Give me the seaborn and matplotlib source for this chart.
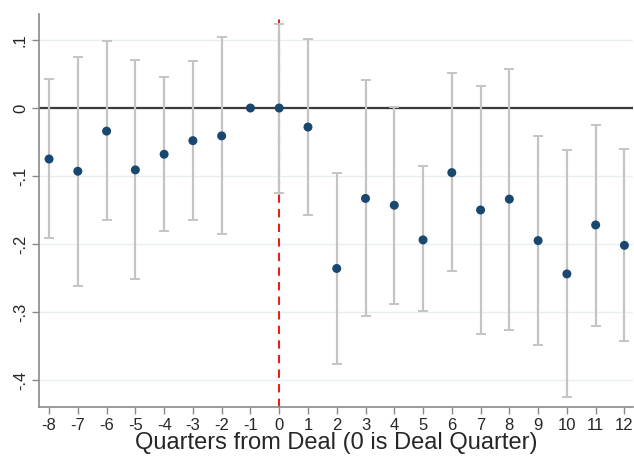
import numpy as np
import pandas as pd
import matplotlib
matplotlib.use('Agg')
import matplotlib.pyplot as plt
import seaborn as sns

# event-study estimates
quarters = list(range(-8, 13))
coef = [-0.075, -0.093, -0.034, -0.091, -0.068, -0.048, -0.041, 0.0, 0.0, -0.028,
        -0.236, -0.133, -0.143, -0.194, -0.095, -0.150, -0.134, -0.195, -0.244, -0.172, -0.202]
ci_high = [0.043, 0.075, 0.098, 0.071, 0.046, 0.069, 0.104, np.nan, 0.123, 0.101,
           -0.096, 0.041, 0.001, -0.086, 0.051, 0.033, 0.058, -0.041, -0.062, -0.025, -0.060]
ci_low = [-0.191, -0.262, -0.165, -0.252, -0.181, -0.165, -0.186, np.nan, -0.125, -0.157,
          -0.376, -0.306, -0.288, -0.299, -0.240, -0.333, -0.326, -0.348, -0.425, -0.320, -0.343]
yticks = [0.1, 0, -0.1, -0.2, -0.3, -0.4]
ytick_labels = ['.1', '0', '-.1', '-.2', '-.3', '-.4']


def main():
    df = pd.DataFrame({'q': quarters, 'coef': coef, 'hi': ci_high, 'lo': ci_low})

    sns.set_style('white')
    plt.rcParams['font.family'] = ['Liberation Sans', 'DejaVu Sans']

    fig = plt.figure(figsize=(6.34, 4.58), dpi=100)
    ax = fig.add_axes([0.0615, 0.111, 0.937, 0.858])

    for v in yticks:
        ax.axhline(v, color='#e8eff3', lw=1.0, zorder=0)
    ax.axhline(0, color='#3a3a3a', lw=1.6, zorder=1)
    ax.axvline(0, color='#e8201c', lw=1.5, ls=(0, (4, 3)), zorder=1)

    # confidence intervals
    bars = df.dropna()
    ax.errorbar(bars['q'], bars['coef'],
                yerr=[bars['coef'] - bars['lo'], bars['hi'] - bars['coef']],
                fmt='none', ecolor='#c4c4c4', elinewidth=1.6, capsize=3.5,
                capthick=1.4, zorder=2)

    sns.scatterplot(data=df, x='q', y='coef', color='#1a476f', s=42,
                    edgecolor='none', ax=ax, zorder=3)

    ax.set_xlim(-8.35, 12.3)
    ax.set_ylim(-0.44, 0.138)
    ax.set_xticks(quarters)
    ax.set_xticklabels([str(q) for q in quarters], fontsize=12)
    ax.set_yticks(yticks)
    ax.set_yticklabels(ytick_labels, fontsize=12, rotation=90, va='center')
    ax.tick_params(axis='both', direction='out', length=5, width=1,
                   color='#8a8a8a', pad=3, bottom=True, left=True)
    ax.set_xlabel('Quarters from Deal (0 is Deal Quarter)', fontsize=17, labelpad=-1)
    ax.set_ylabel('')

    for s in ['top', 'right']:
        ax.spines[s].set_visible(False)
    for s in ['left', 'bottom']:
        ax.spines[s].set_color('#8a8a8a')
        ax.spines[s].set_linewidth(1.2)

    plt.savefig('out.png', dpi=100)
    plt.close()


if __name__ == '__main__':
    main()
